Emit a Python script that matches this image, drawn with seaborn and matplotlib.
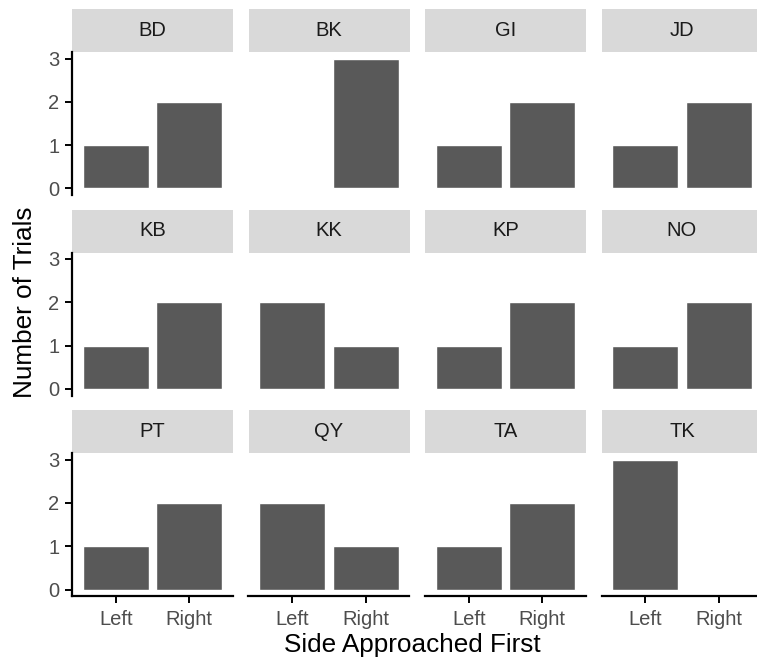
import matplotlib
matplotlib.use("Agg")
import matplotlib.pyplot as plt
from matplotlib.patches import Rectangle
import seaborn as sns
import pandas as pd

# data
subjects = ["BD", "BK", "GI", "JD", "KB", "KK", "KP", "NO", "PT", "QY", "TA", "TK"]
sides = ["Left", "Right"]
left_trials = [1, 0, 1, 1, 1, 2, 1, 1, 1, 2, 1, 3]
right_trials = [2, 3, 2, 2, 2, 1, 2, 2, 2, 1, 2, 0]

df = pd.DataFrame({
    "Subject": subjects * 2,
    "Side": ["Left"] * len(subjects) + ["Right"] * len(subjects),
    "Trials": left_trials + right_trials,
})

sns.set_style("white")
plt.rcParams["font.family"] = ["Liberation Sans", "DejaVu Sans"]

W, H = 757, 667
fig = plt.figure(figsize=(W / 100, H / 100), dpi=100)

col_left = [72, 248.5, 425, 601.5]
row_top = [52, 252.5, 453]
pw, ph = 161, 143
strip_h = 43

for i, subj in enumerate(subjects):
    r, c = divmod(i, 4)
    ax = fig.add_axes([col_left[c] / W, 1 - (row_top[r] + ph) / H, pw / W, ph / H])
    sub = df[df["Subject"] == subj]
    sns.barplot(data=sub, x="Side", y="Trials", order=sides, color="#595959",
                saturation=1, width=0.9, ax=ax, errorbar=None)
    ax.set_xlim(-0.6, 1.6)
    ax.set_ylim(-0.15, 3.15)
    ax.set_yticks([0, 1, 2, 3])
    ax.set_xlabel("")
    ax.set_ylabel("")
    for s in ax.spines.values():
        s.set_visible(False)
    ax.tick_params(axis="both", length=5, width=1.4, color="black",
                   labelsize=14.5, labelcolor="#4D4D4D", pad=4)
    if c == 0:
        ax.spines["left"].set_visible(True)
        ax.spines["left"].set_linewidth(1.6)
        ax.spines["left"].set_color("black")
        ax.tick_params(axis="y", left=True, labelleft=True)
    else:
        ax.tick_params(axis="y", left=False, labelleft=False)
    if r == 2:
        ax.spines["bottom"].set_visible(True)
        ax.spines["bottom"].set_linewidth(1.6)
        ax.spines["bottom"].set_color("black")
        ax.tick_params(axis="x", bottom=True, labelbottom=True, pad=5)
    else:
        ax.tick_params(axis="x", bottom=False, labelbottom=False)
    # facet strip
    ax.add_patch(Rectangle((0, 1), 1, strip_h / ph, transform=ax.transAxes,
                           facecolor="#D9D9D9", edgecolor="none", clip_on=False))
    ax.text(0.5, 1 + strip_h / ph / 2, subj, transform=ax.transAxes,
            ha="center", va="center", fontsize=14.5, color="#1A1A1A")

fig.text(412 / W, 1 - 645 / H, "Side Approached First", ha="center", va="center",
         fontsize=18.8, color="black")
fig.text(25 / W, 1 - 302 / H, "Number of Trials", ha="center", va="center",
         rotation=90, fontsize=18.8, color="black")

fig.savefig("out.png", dpi=100)
